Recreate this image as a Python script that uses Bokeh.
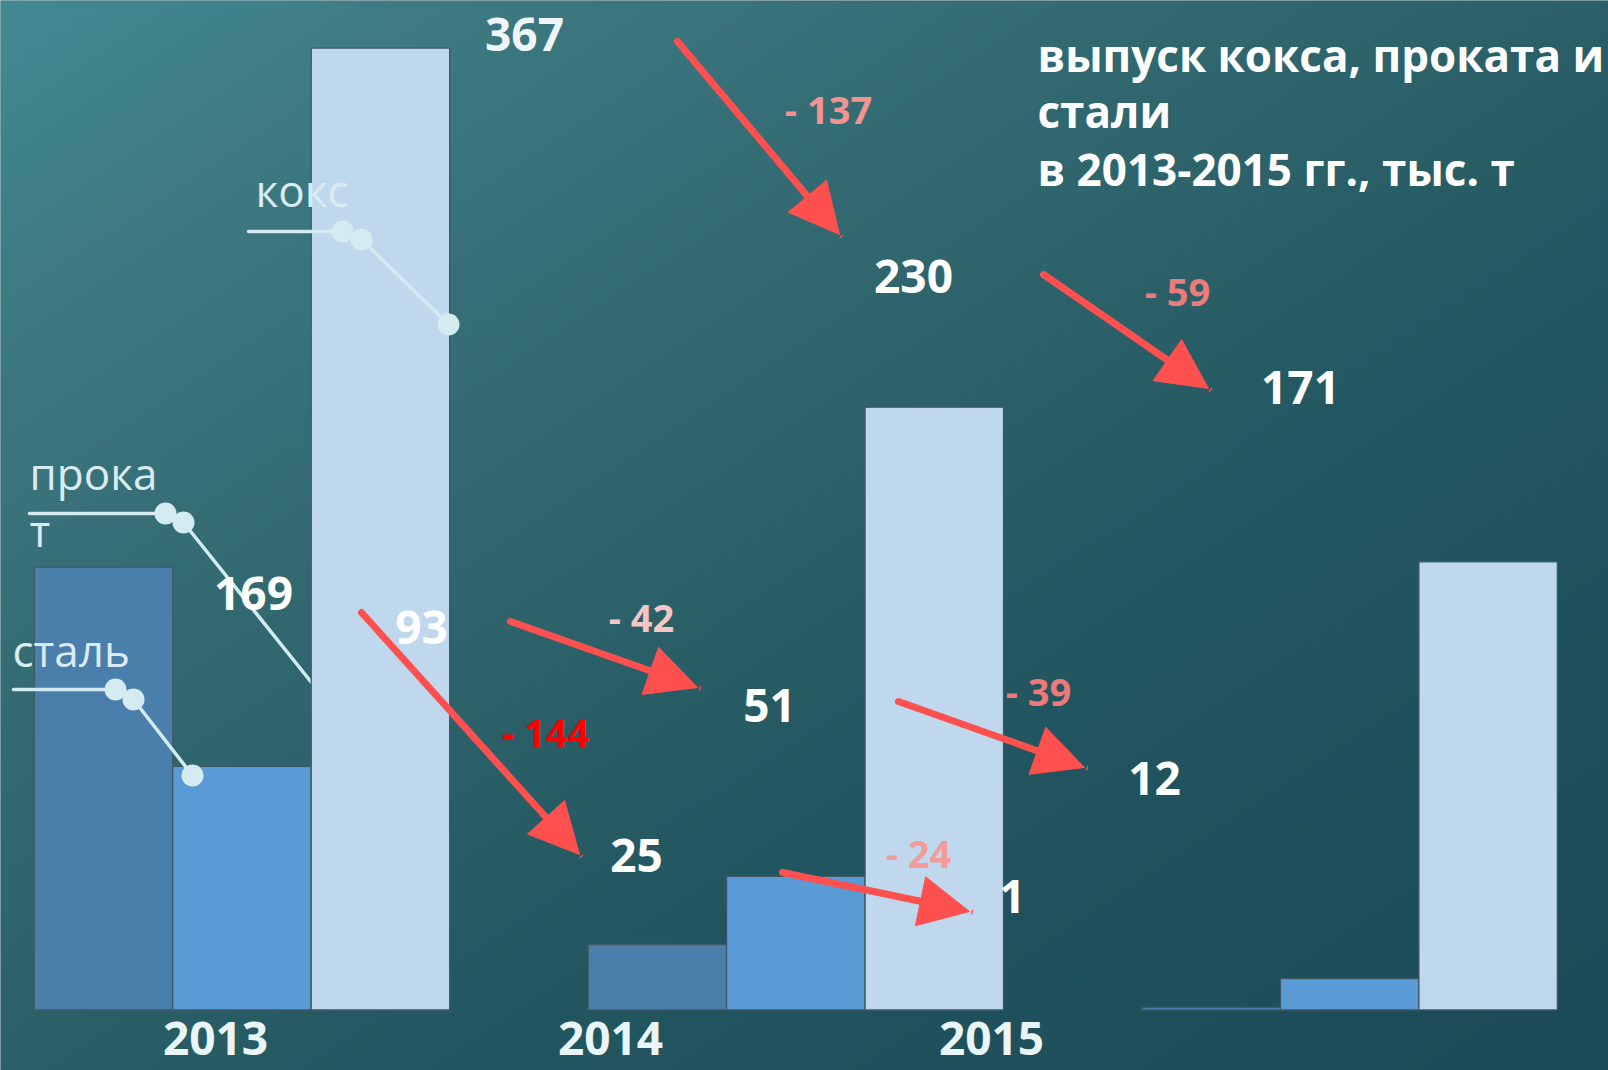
import numpy as np
from bokeh.plotting import figure
from bokeh.models import ColumnDataSource, Range1d, Arrow, NormalHead
from bokeh.core.properties import value
from bokeh.embed import file_html
from bokeh.resources import INLINE

# ---------------- data ----------------
years = ["2013", "2014", "2015"]
series = ["сталь", "прокат", "кокс"]
steel = [169, 25, 1]
rolled = [93, 51, 12]
coke = [367, 230, 171]
title_lines = ["выпуск кокса, проката и", "стали", "в 2013-2015 гг., тыс. т"]

# ---------------- styles ----------------
BAR_COLORS = ["#4a7eab", "#5b9bd5", "#c0d8ee"]
BAR_EDGE = "#3e5866"
RED = "#ff5050"
CALLOUT = "#d3ebf1"
FONT = value("Open Sans")
BASELINE_FIX = 0.40   # em; compensates renderer's alphabetic baseline offset

# ---------------- layout (reference pixel positions) ----------------
W, H = 1608, 1070
SX = 138.46                     # px per bar width
X0 = -1.5 - 33.8 / SX           # left data edge
SY, BASE = 2.621, 1009.5        # px per thousand t, baseline (page px)


def dx(px):
    return X0 + px / SX


def dy(py):
    return (BASE - py) / SY


def ty(py, fs):
    return dy(py - BASELINE_FIX * fs)


# value label centres per series (page px): [year0, year1, year2]
value_pos = [
    [(253, 594), (636, 856), (1012, 897)],    # сталь
    [(421, 628), (769, 706), (1154, 779)],    # прокат
    [(524, 35), (913, 277), (1300, 388)],     # кокс
]
value_colors = [["#ffffff"] * 3, ["#ffffff"] * 3, ["#eef6fa", "#ffffff", "#ffffff"]]

# change arrows per series: (start, tip) and label centre + colour
arrow_pos = [
    [((361, 612), (579, 854)), ((782, 872), (969, 911))],
    [((510, 621), (697, 687)), ((898, 701), (1084, 767))],
    [((677, 41), (839, 234)), ((1043, 274), (1208, 388))],
]
diff_pos = [
    [(545, 733), (918, 854)],
    [(641, 618), (1038, 692)],
    [(828, 110), (1177, 292)],
]
diff_colors = [["#ff0000", "#f39a9a"], ["#f5c6c6", "#f07878"], ["#f4938f", "#ee7b7b"]]

year_pos = [(215, 1056), (610, 1056), (991, 1056)]
title_pos = [(1037, 72), (1037, 128), (1037, 186)]

# callout leader lines (page px)
callout_lines = {
    "кокс": [(248, 231), (342, 231), (361, 239), (448, 324)],
    "прокат": [(29, 513), (165, 513), (183, 522), (311, 682)],
    "сталь": [(13, 689), (115, 689), (133, 699), (192, 775)],
}
callout_dots = {
    "кокс": [(342, 231), (361, 239), (448, 324)],
    "прокат": [(165, 513), (183, 522)],
    "сталь": [(115, 689), (133, 699), (192, 775)],
}
callout_text = [("кокс", 255, 207), ("прока", 29, 490), ("т", 29, 547), ("сталь", 12, 667)]

# ---------------- figure ----------------
x_range = Range1d(X0, X0 + W / SX)
y_range = Range1d(dy(H), dy(0))
p = figure(width=W, height=H, x_range=x_range, y_range=y_range,
           output_backend="svg", toolbar_location=None,
           x_axis_location=None, y_axis_location=None,
           min_border=0, background_fill_color="#2d6069",
           border_fill_color="#2d6069")
p.grid.visible = False
p.outline_line_color = None

# background gradient
GW, GH = 400, 266
u = (np.arange(GW) + 0.5) / GW
v = 1 - (np.arange(GH) + 0.5) / GH
U, V = np.meshgrid(u, v)
T = (U + V) / 2
stops = [0.0, 0.15, 0.3, 0.5, 0.65, 1.0]
cols = np.array([(66, 138, 148), (62, 122, 130), (54, 110, 118),
                 (43, 96, 104), (34, 86, 96), (28, 74, 86)], dtype=float)
img = np.empty((GH, GW), dtype=np.uint32)
view = img.view(dtype=np.uint8).reshape((GH, GW, 4))
for c in range(3):
    view[:, :, c] = np.interp(T, stops, cols[:, c]).astype(np.uint8)
view[:, :, 3] = 255
p.image_rgba(image=[img], x=X0, y=dy(H), dw=W / SX, dh=dy(0) - dy(H))

values = [steel, rolled, coke]


def bars(k):
    xs = [4 * i + (k - 1) for i in range(len(years))]
    src = ColumnDataSource(dict(x=xs, top=values[k], year=years))
    p.vbar(x="x", top="top", bottom=0, width=1, source=src,
           fill_color=BAR_COLORS[k], line_color=BAR_EDGE, line_width=1.3)


def callout(name):
    pts = callout_lines[name]
    p.line([dx(a) for a, b in pts], [dy(b) for a, b in pts],
           line_color=CALLOUT, line_width=3.5, line_cap="round")
    d = callout_dots[name]
    p.scatter([dx(a) for a, b in d], [dy(b) for a, b in d], size=22,
              fill_color=CALLOUT, line_color=None)


bars(0)
bars(1)
callout("прокат")
bars(2)
callout("кокс")
callout("сталь")

# arrows
for k in range(3):
    for j in range(2):
        (sx, sy), (ex, ey) = arrow_pos[k][j]
        p.add_layout(Arrow(end=NormalHead(size=50, fill_color=RED, line_color=RED, line_width=1),
                           x_start=dx(sx), y_start=dy(sy), x_end=dx(ex), y_end=dy(ey),
                           line_color=RED, line_width=7, line_cap="round"))

# diff labels
DFS = 38
dtx, dty, dtt, dtc = [], [], [], []
for k in range(3):
    for j in range(2):
        d = values[k][j + 1] - values[k][j]
        cx, cy = diff_pos[k][j]
        dtx.append(dx(cx)); dty.append(ty(cy + 14, DFS)); dtc.append(diff_colors[k][j])
        dtt.append(("- " if d < 0 else "+ ") + str(abs(d)))
p.text(x=dtx, y=dty, text=dtt, text_color=dtc, text_font=FONT, text_font_style="bold",
       text_font_size=f"{DFS}px", text_align="center", text_baseline="alphabetic")

# value labels
VFS = 46
vx, vy, vt, vc = [], [], [], []
for k in range(3):
    for i in range(3):
        cx, cy = value_pos[k][i]
        vx.append(dx(cx)); vy.append(ty(cy + 17, VFS)); vt.append(str(values[k][i]))
        vc.append(value_colors[k][i])
p.text(x=vx, y=vy, text=vt, text_color=vc, text_font=FONT, text_font_style="bold",
       text_font_size=f"{VFS}px", text_align="center", text_baseline="alphabetic")

# callout texts
CFS = 44
p.text(x=[dx(a) for _, a, b in callout_text], y=[ty(b, CFS) for _, a, b in callout_text],
       text=[t for t, _, _ in callout_text], text_color="#dbecf1", text_font=FONT,
       text_font_size=f"{CFS}px", text_align="left", text_baseline="alphabetic")

# year labels
p.text(x=[dx(a) for a, b in year_pos], y=[ty(b, VFS) for a, b in year_pos], text=years,
       text_color="#eaf5f8", text_font=FONT, text_font_style="bold",
       text_font_size=f"{VFS}px", text_align="center", text_baseline="alphabetic")

# title
TFS = 44
p.text(x=[dx(a) for a, b in title_pos], y=[ty(b, TFS) for a, b in title_pos], text=title_lines,
       text_color="#ffffff", text_font=FONT, text_font_style="bold",
       text_font_size=f"{TFS}px", text_align="left", text_baseline="alphabetic")

open("out.html", "w").write(file_html(p, INLINE))
